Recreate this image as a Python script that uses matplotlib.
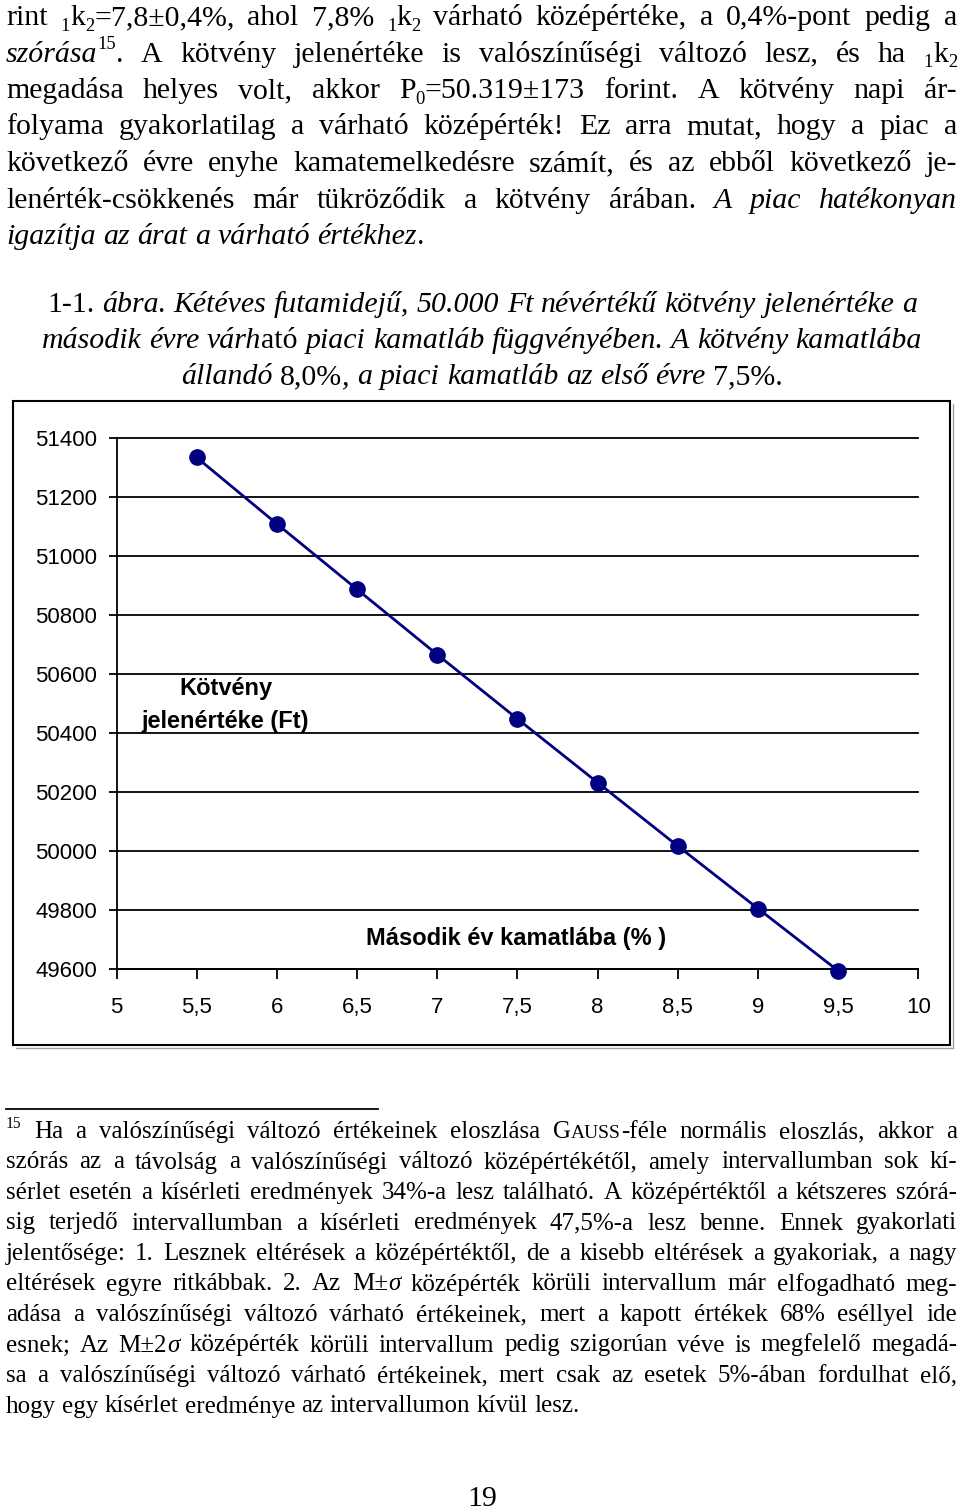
import matplotlib
matplotlib.use("Agg")
import matplotlib.pyplot as plt
from matplotlib.patches import Rectangle
from matplotlib.lines import Line2D

# ---------------- chart data ----------------
second_year_rate = [5.5, 6.0, 6.5, 7.0, 7.5, 8.0, 8.5, 9.0, 9.5]
present_value = [51335, 51110, 50888, 50667, 50449, 50233, 50018, 49806, 49595]
x_ticks = [5, 5.5, 6, 6.5, 7, 7.5, 8, 8.5, 9, 9.5, 10]
x_tick_labels = ["5", "5,5", "6", "6,5", "7", "7,5", "8", "8,5", "9", "9,5", "10"]
y_ticks = [49600, 49800, 50000, 50200, 50400, 50600, 50800, 51000, 51200, 51400]
y_tick_labels = ["49600", "49800", "50000", "50200", "50400", "50600",
                 "50800", "51000", "51200", "51400"]
y_label_lines = ["Kötvény", "jelenértéke (Ft)"]
x_label = "Második év kamatlába (% )"

# ---------------- page text ----------------
body_lines = [
    [("rint ", "n"), ("1", "sub"), ("k", "n"), ("2", "sub"),
     ("=7,8±0,4%, ahol 7,8% ", "n"), ("1", "sub"), ("k", "n"), ("2", "sub"),
     (" várható középértéke, a 0,4%-pont pedig a", "n")],
    [("szórása", "i"), ("15", "sup"),
     (". A kötvény jelenértéke is valószínűségi változó lesz, és ha ", "n"),
     ("1", "sub"), ("k", "n"), ("2", "sub")],
    [("megadása helyes volt, akkor P", "n"), ("0", "sub"),
     ("=50.319±173 forint. A kötvény napi ár-", "n")],
    [("folyama gyakorlatilag a várható középérték! Ez arra mutat, hogy a piac a", "n")],
    [("következő évre enyhe kamatemelkedésre számít, és az ebből következő je-", "n")],
    [("lenérték-csökkenés már tükröződik a kötvény árában. ", "n"),
     ("A piac hatékonyan", "i")],
    [("igazítja az árat a várható értékhez", "i"), (".", "n")],
]
caption_lines = [
    [("1-1. ", "n"),
     ("ábra. Kétéves futamidejű, 50.000 Ft névértékű kötvény jelenértéke a", "i")],
    [("második évre várh", "i"), ("ató", "n"),
     (" piaci kamatláb függvényében. A kötvény kamatlába", "i")],
    [("állandó ", "i"), ("8,0%", "n"), (", a piaci kamatláb az első évre ", "i"),
     ("7,5%.", "n")],
]
footnote_lines = [
    [("15", "sup"), (" Ha a valószínűségi változó értékeinek eloszlása ", "n"),
     ("G", "n"), ("AUSS", "sc"), ("-féle normális eloszlás, akkor a", "n")],
    [("szórás az a távolság a valószínűségi változó középértékétől, amely intervallumban sok kí-", "n")],
    [("sérlet esetén a kísérleti eredmények 34%-a lesz található. A középértéktől a kétszeres szórá-", "n")],
    [("sig terjedő intervallumban a kísérleti eredmények 47,5%-a lesz benne. Ennek gyakorlati", "n")],
    [("jelentősége: 1. Lesznek eltérések a középértéktől, de a kisebb eltérések a gyakoriak, a nagy", "n")],
    [("eltérések egyre ritkábbak. 2. Az M±", "n"), ("σ", "i"),
     (" középérték körüli intervallum már elfogadható meg-", "n")],
    [("adása a valószínűségi változó várható értékeinek, mert a kapott értékek 68% eséllyel ide", "n")],
    [("esnek; Az M±2", "n"), ("σ", "i"),
     (" középérték körüli intervallum pedig szigorúan véve is megfelelő megadá-", "n")],
    [("sa a valószínűségi változó várható értékeinek, mert csak az esetek 5%-ában fordulhat elő,", "n")],
    [("hogy egy kísérlet eredménye az intervallumon kívül lesz.", "n")],
]
page_number = "19"

# ---------------- figure ----------------
W, H = 960, 1512
fig = plt.figure(figsize=(W / 100, H / 100), dpi=100)
fig.patch.set_facecolor("white")
renderer = fig.canvas.get_renderer()

SERIF = "Liberation Serif"
SANS = "Liberation Sans"
BODY = 21.5
FOOT = 18.0


def px(pt):
    return pt * 100 / 72.0


def style_props(st, size):
    if st == "n":
        return dict(size=size, style="normal"), 0.0
    if st == "i":
        return dict(size=size, style="italic"), 0.0
    if st == "sub":
        return dict(size=size * 0.62, style="normal"), -0.20 * px(size)
    if st == "sup":
        return dict(size=size * 0.62, style="normal"), 0.42 * px(size)
    if st == "sc":
        return dict(size=size * 0.78, style="normal"), 0.0
    raise ValueError(st)


def make_text(s, st, size):
    props, dy = style_props(st, size)
    t = fig.text(0, 0, s, family=SERIF, fontsize=props["size"],
                 fontstyle=props["style"], ha="left", va="baseline",
                 color="black")
    return t, dy


def text_width(t):
    return t.get_window_extent(renderer).width


def space_width(size, st="n"):
    t1, _ = make_text("x x", st, size)
    t2, _ = make_text("xx", st, size)
    w = text_width(t1) - text_width(t2)
    t1.remove()
    t2.remove()
    return w


def draw_line(runs, y, x0, x1, size, align="justify"):
    words = [[]]
    for text, st in runs:
        parts = text.split(" ")
        for k, p in enumerate(parts):
            if k > 0:
                words.append([])
            if p:
                words[-1].append((p, st))
    words = [w for w in words if w]
    items, widths = [], []
    for w in words:
        wt, tot = [], 0.0
        for p, st in w:
            t, dy = make_text(p, st, size)
            bw = text_width(t)
            wt.append((t, bw, dy))
            tot += bw
        items.append(wt)
        widths.append(tot)
    sp = space_width(size)
    n = len(words)
    natural = sum(widths) + sp * (n - 1)
    if align == "justify" and n > 1:
        gap = max((x1 - x0 - sum(widths)) / (n - 1), 0.5 * sp)
        x = x0
    elif align == "center":
        gap = sp
        x = (x0 + x1) / 2.0 - natural / 2.0
    else:
        gap = sp
        x = x0
    for wt, wtot in zip(items, widths):
        cx = x
        for t, bw, dy in wt:
            t.set_position((cx / W, 1 - (y - dy) / H))
            cx += bw
        x += wtot + gap


# body paragraph
for k, runs in enumerate(body_lines):
    last = k == len(body_lines) - 1
    draw_line(runs, 25 + 36.5 * k, 6, 957, BODY, "left" if last else "justify")

# caption
for k, runs in enumerate(caption_lines):
    draw_line(runs, 312 + 36.2 * k, 2, 962, BODY, "center")

# footnote separator
fig.add_artist(Line2D([6 / W, 378 / W], [1 - 1109 / H, 1 - 1109 / H],
                      transform=fig.transFigure, color="black", lw=1.3))
for k, runs in enumerate(footnote_lines):
    last = k == len(footnote_lines) - 1
    draw_line(runs, 1138 + 30.5 * k, 6, 957, FOOT, "left" if last else "justify")

# page number
fig.text(482 / W, 1 - 1506 / H, page_number, family=SERIF, fontsize=BODY,
         ha="center", va="baseline")

# chart frame
fig.add_artist(Rectangle((13 / W, 1 - 1045 / H), (950 - 13) / W, (1045 - 401) / H,
                         transform=fig.transFigure, fill=False, ec="black", lw=1.5))
fig.add_artist(Line2D([952.5 / W, 952.5 / W], [1 - 1047 / H, 1 - 404 / H],
                      transform=fig.transFigure, color="#a0a0a0", lw=1.0))
fig.add_artist(Line2D([16 / W, 952.5 / W], [1 - 1047.5 / H, 1 - 1047.5 / H],
                      transform=fig.transFigure, color="#a0a0a0", lw=1.0))

# chart axes
ax_l, ax_r, ax_t, ax_b = 116.5, 918.3, 438.3, 969.3
ax = fig.add_axes([ax_l / W, 1 - ax_b / H, (ax_r - ax_l) / W, (ax_b - ax_t) / H])
ax.set_facecolor("white")
ax.set_xlim(5, 10)
ax.set_ylim(49600, 51400)
ax.set_xticks(x_ticks)
ax.set_xticklabels(x_tick_labels, family=SANS, fontsize=16)
ax.set_yticks(y_ticks)
ax.set_yticklabels(y_tick_labels, family=SANS, fontsize=16)
ax.yaxis.grid(True, color="black", lw=1.3)
ax.set_axisbelow(True)
for s in ["top", "right"]:
    ax.spines[s].set_visible(False)
for s in ["left", "bottom"]:
    ax.spines[s].set_color("black")
    ax.spines[s].set_linewidth(1.3)
ax.tick_params(axis="y", direction="out", length=6, width=1.3, pad=8, colors="black")
ax.tick_params(axis="x", direction="out", length=7, width=1.3, pad=13, colors="black")
for gl in ax.get_ygridlines():
    gl.set_clip_on(False)

ax.plot(second_year_rate, present_value, color="#000080", lw=2.0, marker="o",
        markersize=11, markerfacecolor="#000080", markeredgecolor="#000080",
        clip_on=False, zorder=3)

# axis titles placed inside the plot area (as in the original)
fig.text(225.5 / W, 1 - 695 / H, y_label_lines[0], family=SANS, fontsize=17,
         fontweight="bold", ha="center", va="baseline")
fig.text(225.5 / W, 1 - 728 / H, y_label_lines[1], family=SANS, fontsize=17,
         fontweight="bold", ha="center", va="baseline")
fig.text(515.7 / W, 1 - 945 / H, x_label, family=SANS, fontsize=17,
         fontweight="bold", ha="center", va="baseline")

fig.savefig("out.png", dpi=100, facecolor="white")
